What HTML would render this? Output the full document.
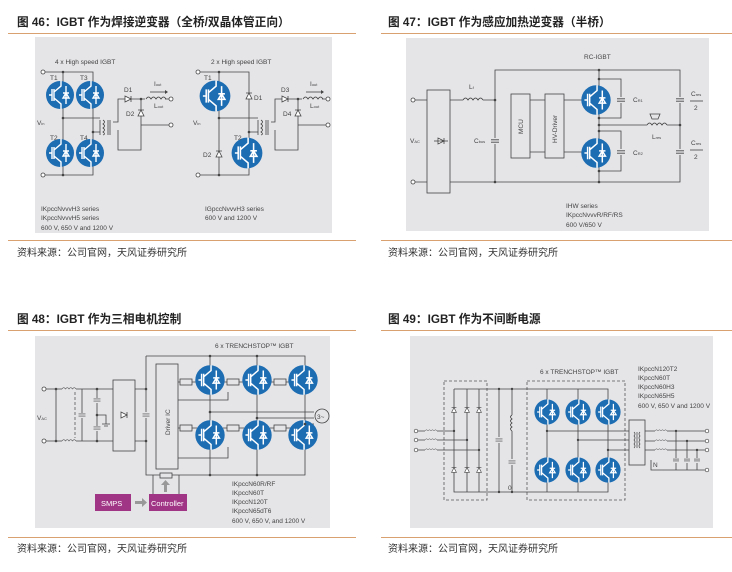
<!DOCTYPE html>
<html><head><meta charset="utf-8"><style>
html,body{margin:0;padding:0;background:#fff;width:732px;height:572px;overflow:hidden}
svg{display:block}
.t{font-family:"Liberation Sans","Noto Sans CJK SC",sans-serif;font-weight:bold;font-size:11.7px;fill:#222}
.s{font-family:"Liberation Sans","Noto Sans CJK SC",sans-serif;font-size:10px;fill:#333}
.l{font-family:"Liberation Sans",sans-serif;font-size:6.5px;fill:#444}
.w{stroke:#444;stroke-width:0.8;fill:none}
.d{stroke:#555;stroke-width:0.8;fill:none;stroke-dasharray:3,2}
</style></head><body>
<svg width="732" height="572" viewBox="0 0 732 572" xmlns="http://www.w3.org/2000/svg">
<defs>
<g id="ig">
<circle r="14" fill="#1d6db3"/>
<g stroke="#fff" stroke-width="1.4" fill="none">
<path d="M-11 0H-8M-8 -6V6M-6 -6V6M-6 -3L1 -9V-14M-6 3L1 9V14M6 -9V9M3 -2H9M6 -2L3 3H9Z"/>
</g>
</g>
<g id="dn"><path d="M-3 3H3L0 -3Z M-3 -3H3" stroke="#444" stroke-width="0.8" fill="#fff"/></g>
<g id="ind"><path d="M0 0q2.5 -4 5 0q2.5 -4 5 0q2.5 -4 5 0q2.5 -4 5 0" stroke="#444" stroke-width="0.8" fill="none"/></g>
<g id="cap"><path d="M-5 -1.5H5M-5 1.5H5" stroke="#444" stroke-width="1"/></g>
</defs>

<text class="t" x="17" y="26">图 46：IGBT 作为焊接逆变器（全桥/双晶体管正向）</text>
<text class="t" x="388" y="26">图 47：IGBT 作为感应加热逆变器（半桥）</text>
<text class="t" x="17" y="323">图 48：IGBT 作为三相电机控制</text>
<text class="t" x="388" y="323">图 49：IGBT 作为不间断电源</text>
<g stroke="#d9a070" stroke-width="1">
<line x1="8" y1="33.5" x2="356" y2="33.5"/><line x1="381" y1="33.5" x2="732" y2="33.5"/>
<line x1="8" y1="240.5" x2="356" y2="240.5"/><line x1="381" y1="240.5" x2="732" y2="240.5"/>
<line x1="8" y1="330.5" x2="356" y2="330.5"/><line x1="381" y1="330.5" x2="732" y2="330.5"/>
<line x1="8" y1="537.5" x2="356" y2="537.5"/><line x1="381" y1="537.5" x2="732" y2="537.5"/>
</g>
<text class="s" x="17" y="256">资料来源：公司官网，天风证券研究所</text>
<text class="s" x="388" y="256">资料来源：公司官网，天风证券研究所</text>
<text class="s" x="17" y="552">资料来源：公司官网，天风证券研究所</text>
<text class="s" x="388" y="552">资料来源：公司官网，天风证券研究所</text>

<rect x="35" y="37" width="297" height="196" fill="#e5e5e8"/>
<rect x="406" y="38" width="303" height="193" fill="#e5e5e8"/>
<rect x="35" y="336" width="295" height="192" fill="#e5e5e8"/>
<rect x="410" y="336" width="303" height="192" fill="#e5e5e8"/>

<!-- Fig 46 -->
<text class="l" x="55" y="64">4 x High speed IGBT</text>
<path class="w" d="M43 72H93V175H43M63 72V175M63 118H100M93 132H100M100 120V135"/>
<path class="w" d="M103 120q3 2 0 4q3 2 0 4q3 2 0 4q3 2 0 3M108 120V135M110 120V135"/>
<path class="w" d="M113 122H118V99H169M118 130V150H141V99M141 125H169"/>
<circle cx="43" cy="72" r="2" fill="#fff" stroke="#444" stroke-width="0.8"/>
<circle cx="43" cy="175" r="2" fill="#fff" stroke="#444" stroke-width="0.8"/>
<circle cx="171" cy="99" r="2" fill="#fff" stroke="#444" stroke-width="0.8"/>
<circle cx="171" cy="125" r="2" fill="#fff" stroke="#444" stroke-width="0.8"/>
<use href="#ig" transform="translate(60,95)"/><use href="#ig" transform="translate(90,95)"/>
<use href="#ig" transform="translate(60,153)"/><use href="#ig" transform="translate(90,153)"/>
<use href="#dn" transform="translate(128,99) rotate(90)"/>
<use href="#dn" transform="translate(141,113)"/>
<rect x="145" y="97" width="20" height="4" fill="#e5e5e8"/>
<use href="#ind" transform="translate(146,99)"/>
<path d="M150 92H165" stroke="#444" stroke-width="0.8"/><path d="M165 90L168 92L165 94Z" fill="#444"/>
<text class="l" x="50" y="80">T1</text><text class="l" x="80" y="80">T3</text>
<text class="l" x="50" y="140">T2</text><text class="l" x="80" y="140">T4</text>
<text class="l" x="37" y="125">V<tspan font-size="4">in</tspan></text>
<text class="l" x="124" y="92">D1</text><text class="l" x="126" y="116">D2</text>
<text class="l" x="154" y="86">I<tspan font-size="4">out</tspan></text>
<text class="l" x="154" y="108">L<tspan font-size="4">out</tspan></text>
<g fill="#444"><circle cx="63" cy="72" r="1.3"/><circle cx="63" cy="118" r="1.3"/><circle cx="63" cy="175" r="1.3"/><circle cx="93" cy="132" r="1.3"/><circle cx="141" cy="99" r="1.3"/></g>
<text class="l" x="41" y="211">IKpccNvvvH3 series</text>
<text class="l" x="41" y="220">IKpccNvvvH5 series</text>
<text class="l" x="41" y="230">600 V, 650 V and 1200 V</text>

<text class="l" x="211" y="64">2 x High speed IGBT</text>
<path class="w" d="M198 72H249V175H198M219 72V175M219 118H258M249 132H258M258 120V135"/>
<path class="w" d="M261 120q3 2 0 4q3 2 0 4q3 2 0 4q3 2 0 3M266 120V135M268 120V135"/>
<path class="w" d="M271 122H275V99H326M275 130V150H298V99M298 125H326"/>
<circle cx="198" cy="72" r="2" fill="#fff" stroke="#444" stroke-width="0.8"/>
<circle cx="198" cy="175" r="2" fill="#fff" stroke="#444" stroke-width="0.8"/>
<circle cx="328" cy="99" r="2" fill="#fff" stroke="#444" stroke-width="0.8"/>
<circle cx="328" cy="125" r="2" fill="#fff" stroke="#444" stroke-width="0.8"/>
<use href="#ig" transform="translate(215,96) scale(1.1)"/>
<use href="#ig" transform="translate(247,153) scale(1.1)"/>
<use href="#dn" transform="translate(249,96)"/>
<use href="#dn" transform="translate(219,154)"/>
<use href="#dn" transform="translate(285,99) rotate(90)"/>
<use href="#dn" transform="translate(298,113)"/>
<rect x="302" y="97" width="20" height="4" fill="#e5e5e8"/>
<use href="#ind" transform="translate(303,99)"/>
<path d="M306 92H321" stroke="#444" stroke-width="0.8"/><path d="M321 90L324 92L321 94Z" fill="#444"/>
<text class="l" x="204" y="80">T1</text><text class="l" x="234" y="140">T2</text>
<text class="l" x="193" y="125">V<tspan font-size="4">in</tspan></text>
<text class="l" x="254" y="100">D1</text><text class="l" x="203" y="157">D2</text>
<text class="l" x="281" y="92">D3</text><text class="l" x="283" y="116">D4</text>
<text class="l" x="310" y="86">I<tspan font-size="4">out</tspan></text>
<text class="l" x="310" y="108">L<tspan font-size="4">out</tspan></text>
<g fill="#444"><circle cx="219" cy="72" r="1.3"/><circle cx="219" cy="118" r="1.3"/><circle cx="219" cy="175" r="1.3"/><circle cx="249" cy="132" r="1.3"/><circle cx="298" cy="99" r="1.3"/></g>
<text class="l" x="205" y="211">IGpccNvvvH3 series</text>
<text class="l" x="205" y="220">600 V and 1200 V</text>

<!-- Fig 47 -->
<text class="l" x="584" y="59">RC-IGBT</text>
<rect x="427" y="90" width="23" height="103" fill="none" stroke="#444" stroke-width="0.8"/>
<path class="w" d="M415 100H427M415 182H427M450 100H463M483 100H495V182M450 182H680V70H495V100M495 100H496"/>
<circle cx="413" cy="100" r="2" fill="#fff" stroke="#444" stroke-width="0.8"/>
<circle cx="413" cy="182" r="2" fill="#fff" stroke="#444" stroke-width="0.8"/>
<use href="#ind" transform="translate(463,100)"/>
<use href="#dn" transform="translate(441,141) rotate(90)"/>
<path class="w" d="M434 141H448"/>
<rect x="491" y="138" width="8" height="6" fill="#e5e5e8"/><use href="#cap" transform="translate(495,141) scale(0.8)"/>
<rect x="511" y="94" width="19" height="64" fill="none" stroke="#444" stroke-width="0.8"/>
<rect x="545" y="94" width="19" height="64" fill="none" stroke="#444" stroke-width="0.8"/>
<text class="l" transform="translate(523,134) rotate(-90)">MCU</text>
<text class="l" transform="translate(557,143) rotate(-90)">HV-Driver</text>
<path class="w" d="M530 100H545M530 152H545M564 100H584M564 152H584"/>
<path class="w" d="M599 70V182M599 79H621V118H599M599 131H621V171H599M599 125H647M667 125H680"/>
<rect x="617" y="97" width="8" height="6" fill="#e5e5e8"/><use href="#cap" transform="translate(621,100) scale(0.8)"/>
<rect x="617" y="149" width="8" height="6" fill="#e5e5e8"/><use href="#cap" transform="translate(621,152) scale(0.8)"/>
<rect x="676" y="97" width="8" height="6" fill="#e5e5e8"/><use href="#cap" transform="translate(680,100) scale(0.8)"/>
<rect x="676" y="149" width="8" height="6" fill="#e5e5e8"/><use href="#cap" transform="translate(680,152) scale(0.8)"/>
<use href="#ind" transform="translate(647,125)"/>
<path d="M650 114H660L658 119H652Z" fill="none" stroke="#444" stroke-width="0.8"/>
<use href="#ig" transform="translate(596,100) scale(1.05)"/>
<use href="#ig" transform="translate(596,153) scale(1.05)"/>
<g fill="#444"><circle cx="495" cy="100" r="1.3"/><circle cx="495" cy="182" r="1.3"/><circle cx="599" cy="70" r="1.3"/><circle cx="599" cy="79" r="1.3"/><circle cx="599" cy="118" r="1.3"/><circle cx="599" cy="125" r="1.3"/><circle cx="599" cy="131" r="1.3"/><circle cx="599" cy="171" r="1.3"/><circle cx="599" cy="182" r="1.3"/><circle cx="680" cy="125" r="1.3"/></g>
<text class="l" x="410" y="143">V<tspan font-size="4">AC</tspan></text>
<text class="l" x="469" y="89">L<tspan font-size="4">f</tspan></text>
<text class="l" x="474" y="143">C<tspan font-size="4">bus</tspan></text>
<text class="l" x="633" y="102">C<tspan font-size="4">R1</tspan></text>
<text class="l" x="633" y="155">C<tspan font-size="4">R2</tspan></text>
<text class="l" x="652" y="139">L<tspan font-size="4">res</tspan></text>
<text class="l" x="691" y="96">C<tspan font-size="4">res</tspan></text><path class="w" d="M690 101H703"/><text class="l" x="694" y="110" font-size="4">2</text>
<text class="l" x="691" y="145">C<tspan font-size="4">res</tspan></text><path class="w" d="M690 150H703"/><text class="l" x="694" y="159" font-size="4">2</text>
<text class="l" x="566" y="208">IHW series</text>
<text class="l" x="566" y="217">IKpccNvvvR/RF/RS</text>
<text class="l" x="566" y="227">600 V/650 V</text>

<!-- Fig 48 -->
<text class="l" x="215" y="348">6 x TRENCHSTOP™ IGBT</text>
<circle cx="44" cy="389" r="2" fill="#fff" stroke="#444" stroke-width="0.8"/>
<circle cx="44" cy="441" r="2" fill="#fff" stroke="#444" stroke-width="0.8"/>
<path class="w" d="M46 389H62M76 389H113M46 441H62M76 441H113M56 389V441M97 389V441M82 389V441"/>
<use href="#ind" transform="translate(62,389) scale(0.7)"/>
<use href="#ind" transform="translate(62,441) scale(0.7)"/>
<path class="d" d="M75 392V438"/>
<rect x="78" y="413" width="8" height="5" fill="#e5e5e8"/><use href="#cap" transform="translate(82,415) scale(0.7)"/>
<rect x="93" y="398" width="8" height="5" fill="#e5e5e8"/><use href="#cap" transform="translate(97,400) scale(0.7)"/>
<rect x="93" y="426" width="8" height="5" fill="#e5e5e8"/><use href="#cap" transform="translate(97,428) scale(0.7)"/>
<path class="w" d="M97 415H106V424M102 424H110M104 426H108"/>
<rect x="113" y="380" width="22" height="71" fill="none" stroke="#444" stroke-width="0.8"/>
<use href="#dn" transform="translate(124,415) rotate(90)"/>
<path class="w" d="M135 389H146M135 441H146M146 356V475H305V356H146M156 475H178M210 356V475M257 356V475M305 356V475"/>
<rect x="142" y="412" width="8" height="6" fill="#e5e5e8"/><use href="#cap" transform="translate(146,415) scale(0.7)"/>
<rect x="156" y="364" width="22" height="105" fill="#e5e5e8" stroke="#444" stroke-width="0.8"/>
<text class="l" transform="translate(170,435) rotate(-90)">Driver IC</text>
<g class="w">
<path d="M178 382H180M192 382H197M178 400H228V392M178 428H180M192 428H197M178 458H228V447M223 382H227M239 382H244M223 428H227M239 428H244M270 382H274M286 382H291M270 428H274M286 428H291"/>
<path d="M210 412H314M257 418H314M305 424H314"/>
</g>
<g fill="#e5e5e8" stroke="#444" stroke-width="0.8">
<rect x="180" y="379" width="12" height="6"/><rect x="180" y="425" width="12" height="6"/>
<rect x="227" y="379" width="12" height="6"/><rect x="227" y="425" width="12" height="6"/>
<rect x="274" y="379" width="12" height="6"/><rect x="274" y="425" width="12" height="6"/>
<rect x="160" y="473" width="12" height="5"/>
</g>
<circle cx="322" cy="416" r="7" fill="#e5e5e8" stroke="#444" stroke-width="0.8"/>
<text class="l" x="317" y="419" font-size="5.5">3~</text>
<use href="#ig" transform="translate(210,380) scale(1.05)"/><use href="#ig" transform="translate(257,380) scale(1.05)"/><use href="#ig" transform="translate(303,380) scale(1.05)"/>
<use href="#ig" transform="translate(210,435) scale(1.05)"/><use href="#ig" transform="translate(257,435) scale(1.05)"/><use href="#ig" transform="translate(303,435) scale(1.05)"/>
<g fill="#444"><circle cx="146" cy="389" r="1.3"/><circle cx="146" cy="441" r="1.3"/><circle cx="210" cy="356" r="1.3"/><circle cx="257" cy="356" r="1.3"/><circle cx="210" cy="475" r="1.3"/><circle cx="257" cy="475" r="1.3"/><circle cx="210" cy="412" r="1.3"/><circle cx="257" cy="418" r="1.3"/><circle cx="305" cy="424" r="1.3"/><circle cx="56" cy="389" r="1.3"/><circle cx="56" cy="441" r="1.3"/><circle cx="97" cy="389" r="1.3"/><circle cx="97" cy="441" r="1.3"/><circle cx="97" cy="415" r="1.3"/></g>
<path class="w" d="M153 475V494M179 475V494"/>
<rect x="95" y="494" width="36" height="17" fill="#a03585"/>
<rect x="149" y="494" width="38" height="17" fill="#a03585"/>
<text x="101" y="506" font-family="Liberation Sans,sans-serif" font-size="7.5" fill="#fff">SMPS</text>
<text x="151" y="506" font-family="Liberation Sans,sans-serif" font-size="7.5" fill="#fff">Controller</text>
<path d="M135 501H142V498L147 502.5L142 507V504H135Z" fill="#999"/>
<path d="M164 492V485H161L165.5 480L170 485H167V492Z" fill="#999"/>
<text class="l" x="232" y="486">IKpccN60R/RF</text>
<text class="l" x="232" y="495">IKpccN60T</text>
<text class="l" x="232" y="504">IKpccN120T</text>
<text class="l" x="232" y="513">IKpccN65dT6</text>
<text class="l" x="232" y="523">600 V, 650 V, and 1200 V</text>
<text class="l" x="37" y="420">V<tspan font-size="4">AC</tspan></text>

<!-- Fig 49 -->
<text class="l" x="540" y="374">6 x TRENCHSTOP™ IGBT</text>
<text class="l" x="638" y="371">IKpccN120T2</text>
<text class="l" x="638" y="380">IKpccN60T</text>
<text class="l" x="638" y="389">IKpccN60H3</text>
<text class="l" x="638" y="398">IKpccN65H5</text>
<text class="l" x="638" y="408">600 V, 650 V and 1200 V</text>
<rect x="444" y="381" width="43" height="119" class="d"/>
<rect x="527" y="381" width="98" height="119" class="d"/>
<path class="w" d="M454 389H608V492H454V389M467 389V492M479 389V492M499 389V492M512 389V492M547 389V492M578 389V492"/>
<path class="w" d="M418 431H425M437 431H454M418 440H425M437 440H467M418 450H425M437 450H479"/>
<circle cx="416" cy="431" r="1.8" fill="#fff" stroke="#444" stroke-width="0.7"/>
<circle cx="416" cy="440" r="1.8" fill="#fff" stroke="#444" stroke-width="0.7"/>
<circle cx="416" cy="450" r="1.8" fill="#fff" stroke="#444" stroke-width="0.7"/>
<use href="#ind" transform="translate(425,431) scale(0.6)"/>
<use href="#ind" transform="translate(425,440) scale(0.6)"/>
<use href="#ind" transform="translate(425,450) scale(0.6)"/>
<use href="#dn" transform="translate(454,410) scale(0.8)"/><use href="#dn" transform="translate(467,410) scale(0.8)"/><use href="#dn" transform="translate(479,410) scale(0.8)"/>
<use href="#dn" transform="translate(454,470) scale(0.8)"/><use href="#dn" transform="translate(467,470) scale(0.8)"/><use href="#dn" transform="translate(479,470) scale(0.8)"/>
<rect x="494" y="437" width="10" height="6" fill="#e5e5e8"/><use href="#cap" transform="translate(499,440) scale(0.7)"/>
<rect x="508" y="459" width="8" height="6" fill="#e5e5e8"/><use href="#cap" transform="translate(512,462) scale(0.7)"/>
<rect x="509" y="415" width="6" height="16" fill="#e5e5e8"/>
<path d="M512 415q-3 2 0 4q-3 2 0 4q-3 2 0 4q-3 2 0 4" stroke="#444" stroke-width="0.8" fill="none"/>
<text class="l" x="508" y="490">0</text>
<path class="w" d="M547 431H629M578 440H629M608 450H629"/>
<use href="#ig" transform="translate(547,412) scale(0.9)"/><use href="#ig" transform="translate(578,412) scale(0.9)"/><use href="#ig" transform="translate(608,412) scale(0.9)"/>
<use href="#ig" transform="translate(547,470) scale(0.9)"/><use href="#ig" transform="translate(578,470) scale(0.9)"/><use href="#ig" transform="translate(608,470) scale(0.9)"/>
<rect x="629" y="420" width="16" height="45" fill="#e5e5e8" stroke="#444" stroke-width="0.8"/>
<path d="M634 432q2 2 0 4q2 2 0 4q2 2 0 4q2 2 0 4M640 432q-2 2 0 4q-2 2 0 4q-2 2 0 4q-2 2 0 4M637 432V448" stroke="#444" stroke-width="0.7" fill="none"/>
<path class="w" d="M645 431H655M667 431H705M645 441H655M667 441H705M645 450H655M667 450H705M651 460V470H705M676 431V470M687 441V470M697 450V470"/>
<use href="#ind" transform="translate(655,431) scale(0.6)"/>
<use href="#ind" transform="translate(655,441) scale(0.6)"/>
<use href="#ind" transform="translate(655,450) scale(0.6)"/>
<rect x="672" y="458" width="30" height="5" fill="#e5e5e8"/>
<use href="#cap" transform="translate(676,460) scale(0.6)"/><use href="#cap" transform="translate(687,460) scale(0.6)"/><use href="#cap" transform="translate(697,460) scale(0.6)"/>
<text class="l" x="653" y="467">N</text>
<circle cx="707" cy="431" r="1.8" fill="#fff" stroke="#444" stroke-width="0.7"/>
<circle cx="707" cy="441" r="1.8" fill="#fff" stroke="#444" stroke-width="0.7"/>
<circle cx="707" cy="450" r="1.8" fill="#fff" stroke="#444" stroke-width="0.7"/>
<circle cx="707" cy="470" r="1.8" fill="#fff" stroke="#444" stroke-width="0.7"/>
<g fill="#444"><circle cx="454" cy="431" r="1.2"/><circle cx="467" cy="440" r="1.2"/><circle cx="479" cy="450" r="1.2"/><circle cx="499" cy="389" r="1.2"/><circle cx="512" cy="389" r="1.2"/><circle cx="499" cy="492" r="1.2"/><circle cx="512" cy="492" r="1.2"/><circle cx="547" cy="431" r="1.2"/><circle cx="578" cy="440" r="1.2"/><circle cx="608" cy="450" r="1.2"/><circle cx="676" cy="431" r="1.2"/><circle cx="687" cy="441" r="1.2"/><circle cx="697" cy="450" r="1.2"/></g>
</svg>
</body></html>
